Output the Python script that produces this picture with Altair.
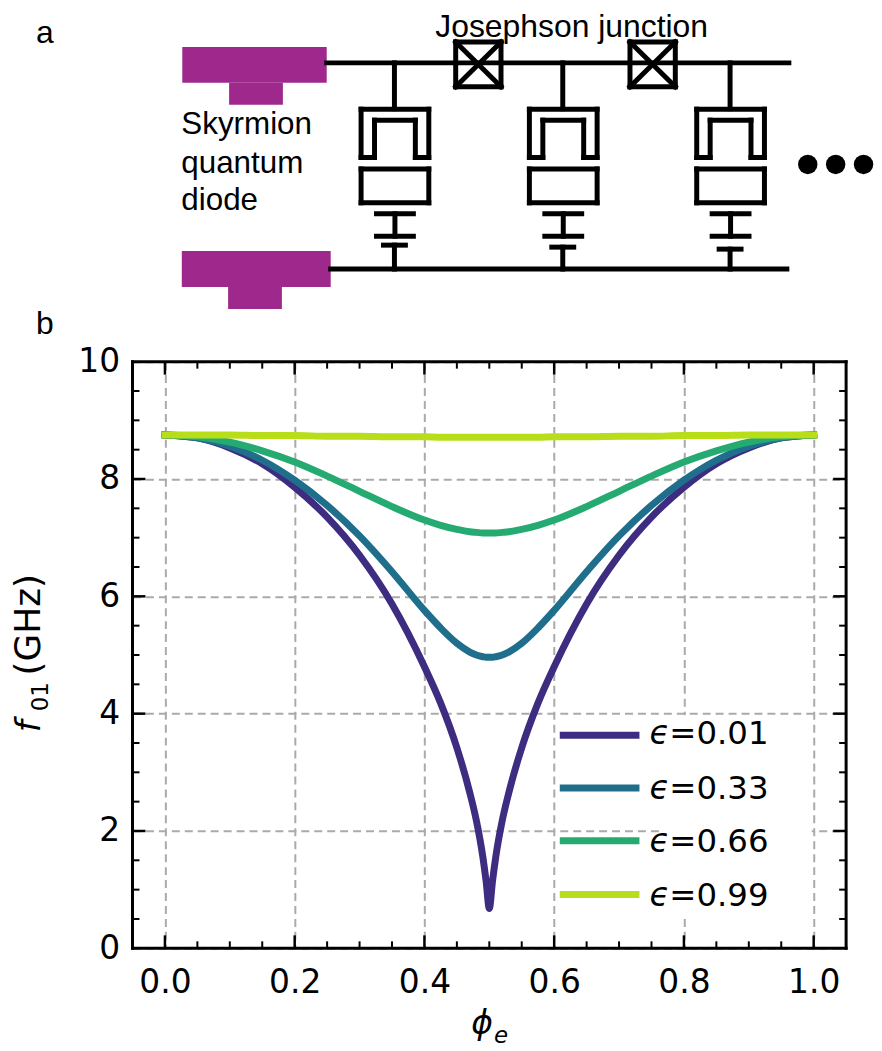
import altair as alt
import pandas as pd

# Panel b: values
phi = [0.0, 0.05, 0.1, 0.15, 0.2, 0.25, 0.3, 0.35, 0.4, 0.425, 0.45, 0.47, 0.48, 0.49, 0.495, 0.5,
       0.505, 0.51, 0.52, 0.53, 0.55, 0.575, 0.6, 0.65, 0.7, 0.75, 0.8, 0.85, 0.9, 0.95, 1.0]
f_001 = [8.75, 8.70, 8.53, 8.26, 7.86, 7.35, 6.70, 5.87, 4.80, 4.18, 3.42, 2.65, 2.18, 1.56, 1.15, 0.68,
         1.15, 1.56, 2.18, 2.65, 3.42, 4.18, 4.80, 5.87, 6.70, 7.35, 7.86, 8.26, 8.53, 8.70, 8.75]
f_033 = [8.75, 8.70, 8.56, 8.32, 7.98, 7.55, 7.03, 6.42, 5.76, 5.46, 5.20, 5.05, 5.00, 4.97, 4.96, 4.96,
         4.96, 4.97, 5.00, 5.05, 5.20, 5.46, 5.76, 6.42, 7.03, 7.55, 7.98, 8.32, 8.56, 8.70, 8.75]
f_066 = [8.75, 8.72, 8.63, 8.48, 8.29, 8.05, 7.79, 7.53, 7.30, 7.21, 7.14, 7.10, 7.09, 7.08, 7.08, 7.08,
         7.08, 7.08, 7.09, 7.10, 7.14, 7.21, 7.30, 7.53, 7.79, 8.05, 8.29, 8.48, 8.63, 8.72, 8.75]
f_099 = [8.75, 8.75, 8.75, 8.74, 8.74, 8.73, 8.73, 8.72, 8.72, 8.71, 8.71, 8.71, 8.71, 8.71, 8.71, 8.71,
         8.71, 8.71, 8.71, 8.71, 8.71, 8.71, 8.72, 8.72, 8.73, 8.73, 8.74, 8.74, 8.75, 8.75, 8.75]
series_names = ["0.01", "0.33", "0.66", "0.99"]
series_values = [f_001, f_033, f_066, f_099]
series_colors = ["#3e2c80", "#1f6e8c", "#25ab72", "#b8de1a"]

x_major = [0.0, 0.2, 0.4, 0.6, 0.8, 1.0]
x_minor = [0.05, 0.1, 0.15, 0.25, 0.3, 0.35, 0.45, 0.5, 0.55, 0.65, 0.7, 0.75, 0.85, 0.9, 0.95]
y_major = [2, 4, 6, 8]
y_minor = [0.5, 1, 1.5, 2.5, 3, 3.5, 4.5, 5, 5.5, 6.5, 7, 7.5, 8.5, 9, 9.5]

# Legend rows, in page coordinates
legend_x = [561, 641]
legend_line_y = [736, 789, 842, 896]
legend_text_y = [745, 800, 853, 908]

# Panel a: schematic parts, in page coordinates
blocks = [
    (182, 327, 45, 81), (229, 283, 81, 103),
    (181.5, 331, 250, 286), (228, 282, 286, 308),
]
columns = [395, 564, 732]
third_plate_y = [244, 246, 248]
junctions = [(456.5, 502), (631.5, 677)]
dots_x = [810, 838, 866]

LEFT, RIGHT, TOP, BOTTOM = 132, 848.5, 361, 950
PX_X = alt.Scale(domain=[LEFT, RIGHT])
PX_Y = alt.Scale(domain=[BOTTOM, TOP])
PHI_SCALE = alt.Scale(domain=[-0.05, 1.05], nice=False, zero=False)
F_SCALE = alt.Scale(domain=[0, 10], nice=False, zero=False)


def px_x(name="x"):
    return alt.X(f"{name}:Q", scale=PX_X, axis=None)


def px_y(name="y"):
    return alt.Y(f"{name}:Q", scale=PX_Y, axis=None)


def segments(rows, width=5, color="black", cap="square"):
    df = pd.DataFrame(rows, columns=["x", "y", "x2", "y2"])
    return alt.Chart(df).mark_rule(strokeWidth=width, color=color, strokeCap=cap).encode(
        x=px_x(), y=px_y(), x2="x2:Q", y2="y2:Q"
    )


def label(text, x, y, size, font="Liberation Sans", style="normal", angle=0, align="left"):
    df = pd.DataFrame({"x": [x], "y": [y], "t": [text]})
    return alt.Chart(df).mark_text(
        font=font, fontSize=size, fontStyle=style, angle=angle, align=align,
        baseline="alphabetic", color="black"
    ).encode(x=px_x(), y=px_y(), text="t:N")


# Axes and grid
base_df = pd.DataFrame({"x": [0.5], "y": [5]})
axes = alt.Chart(base_df).mark_point(opacity=0).encode(
    x=alt.X("x:Q", scale=PHI_SCALE, title=None, axis=alt.Axis(
        values=x_major, format=".1f", grid=True, gridColor="#aaaaaa", gridWidth=2, gridDash=[8, 5],
        ticks=False, domain=False, labelFont="DejaVu Sans", labelFontSize=33, labelColor="black",
        labelPadding=18, labelBaseline="top", labelFlush=False)),
    y=alt.Y("y:Q", scale=F_SCALE, title=None, axis=alt.Axis(
        values=[0] + y_major + [10], format="d", grid=True, gridColor="#aaaaaa", gridWidth=2,
        gridDash=[8, 5], ticks=False, domain=False, labelFont="DejaVu Sans", labelFontSize=33,
        labelColor="black", labelPadding=13, labelBaseline="middle")),
)

# White patch behind the legend
patch = alt.Chart(pd.DataFrame({"x": [663], "x2": [814], "y": [716], "y2": [917]})).mark_rect(
    color="white"
).encode(x=px_x(), x2="x2:Q", y=px_y(), y2="y2:Q")

# Plot frame
frame = segments([
    (LEFT, TOP, RIGHT, TOP), (LEFT, BOTTOM, RIGHT, BOTTOM),
    (LEFT, TOP, LEFT, BOTTOM), (RIGHT, TOP, RIGHT, BOTTOM),
], width=3)


def ticks_x(values, length, width):
    df = pd.DataFrame({"v": values})
    x = alt.X("v:Q", scale=PHI_SCALE, axis=None)
    h = BOTTOM - TOP
    return [
        alt.Chart(df).mark_rule(color="black", strokeWidth=width).encode(
            x=x, y=alt.value(h), y2=alt.value(h - length)),
        alt.Chart(df).mark_rule(color="black", strokeWidth=width).encode(
            x=x, y=alt.value(0), y2=alt.value(length)),
    ]


def ticks_y(values, length, width):
    df = pd.DataFrame({"v": values})
    y = alt.Y("v:Q", scale=F_SCALE, axis=None)
    w = RIGHT - LEFT
    return [
        alt.Chart(df).mark_rule(color="black", strokeWidth=width).encode(
            y=y, x=alt.value(0), x2=alt.value(length)),
        alt.Chart(df).mark_rule(color="black", strokeWidth=width).encode(
            y=y, x=alt.value(w), x2=alt.value(w - length)),
    ]


tick_layers = (
    ticks_x(x_major, 13, 2.5) + ticks_x(x_minor, 7, 2)
    + ticks_y(y_major, 13, 2.5) + ticks_y(y_minor, 7, 2)
)

# Curves
curves_df = pd.concat(
    [pd.DataFrame({"phi": phi, "f": vals, "s": name, "o": range(len(phi))})
     for name, vals in zip(series_names, series_values)]
)
curves = alt.Chart(curves_df).mark_line(strokeWidth=7, interpolate="monotone", strokeCap="square").encode(
    x=alt.X("phi:Q", scale=PHI_SCALE, axis=None),
    y=alt.Y("f:Q", scale=F_SCALE, axis=None),
    color=alt.Color("s:N", scale=alt.Scale(domain=series_names, range=series_colors), legend=None),
    order="o:Q",
)

# Legend
legend_df = pd.DataFrame({
    "x": [legend_x[0]] * 4, "x2": [legend_x[1]] * 4, "y": legend_line_y,
    "s": series_names,
})
legend_lines = alt.Chart(legend_df).mark_rule(strokeWidth=7).encode(
    x=px_x(), x2="x2:Q", y=px_y(),
    color=alt.Color("s:N", scale=alt.Scale(domain=series_names, range=series_colors), legend=None),
)
legend_labels = []
for name, ty in zip(series_names, legend_text_y):
    legend_labels.append(label("\u03f5", 651, ty, 33, font="DejaVu Sans", style="italic"))
    legend_labels.append(label("=" + name, 671, ty, 32.5, font="DejaVu Sans"))

# Axis titles
titles = [
    label("\u03d5", 472, 1036, 33, font="DejaVu Sans", style="italic"),
    label("e", 495, 1045, 23, font="DejaVu Sans", style="italic"),
    label("f", 39, 733, 34, font="DejaVu Sans", style="italic", angle=270),
    label("01", 47, 712, 23, font="DejaVu Sans", angle=270),
    label("(GHz)", 39, 676, 36, font="DejaVu Sans", angle=270),
]

# Schematic
block_df = pd.DataFrame(blocks, columns=["x", "x2", "y", "y2"])
block_marks = alt.Chart(block_df).mark_rect(color="#9e288c").encode(
    x=px_x(), x2="x2:Q", y=px_y(), y2="y2:Q"
)
wires = [
    (327, 61, 791, 61),
    (331, 268, 789, 268),
]
for jx0, jx1 in junctions:
    wires += [
        (jx0, 40, jx1, 40), (jx0, 85, jx1, 85), (jx0, 40, jx0, 85), (jx1, 40, jx1, 85),
        (jx0, 40, jx1, 85), (jx0, 85, jx1, 40),
    ]
for cx, py in zip(columns, third_plate_y):
    wires += [
        (cx, 61, cx, 107),
        # Outer and inner arms of the shunt capacitor
        (cx - 33.5, 107.5, cx + 34.5, 107.5),
        (cx - 33.5, 107.5, cx - 33.5, 156), (cx + 34.5, 107.5, cx + 34.5, 156),
        (cx - 33.5, 156, cx - 20, 156), (cx + 21, 156, cx + 34.5, 156),
        (cx - 20, 118.5, cx - 20, 156), (cx + 21, 118.5, cx + 21, 156),
        (cx - 20, 118.5, cx + 21, 118.5),
        # Lower rectangle
        (cx - 33.5, 167.5, cx + 34.5, 167.5), (cx - 33.5, 201.5, cx + 34.5, 201.5),
        (cx - 33.5, 167.5, cx - 33.5, 201.5), (cx + 34.5, 167.5, cx + 34.5, 201.5),
        # Capacitor plates
        (cx - 18, 212.5, cx + 19, 212.5), (cx - 18, 235, cx + 19, 235),
        (cx + 0.5, 212.5, cx + 0.5, 235),
        (cx - 11, py, cx + 11, py), (cx, py, cx, 268),
    ]
wire_marks = segments(wires, width=5)

dot_df = pd.DataFrame({"x": dots_x, "y": [163] * len(dots_x)})
dot_marks = alt.Chart(dot_df).mark_point(filled=True, color="black", opacity=1, size=380).encode(
    x=px_x(), y=px_y()
)

schematic_text = [
    label("a", 35, 41, 32),
    label("b", 35, 333, 32),
    label("Josephson junction", 436, 35, 32),
    label("Skyrmion", 181, 132, 31.5),
    label("quantum", 181, 172, 31.5),
    label("diode", 181, 209, 31.5),
]

# Transparent span so the chart's bounds fill the page
anchor = alt.Chart(pd.DataFrame({"x": [7], "y": [8], "x2": [874], "y2": [1043]})).mark_rule(
    opacity=0
).encode(x=px_x(), x2="x2:Q", y=px_y(), y2="y2:Q")

layers = [axes, patch, frame] + tick_layers + [curves, legend_lines] + legend_labels + titles + [
    block_marks, wire_marks, dot_marks
] + schematic_text + [anchor]

chart = alt.layer(*layers).resolve_scale(x="independent", y="independent", color="shared").properties(
    width=RIGHT - LEFT, height=BOTTOM - TOP, padding=0
).configure_view(stroke=None).configure(background="white")

chart.save("out.html", embed_options={"renderer": "svg", "actions": False})
